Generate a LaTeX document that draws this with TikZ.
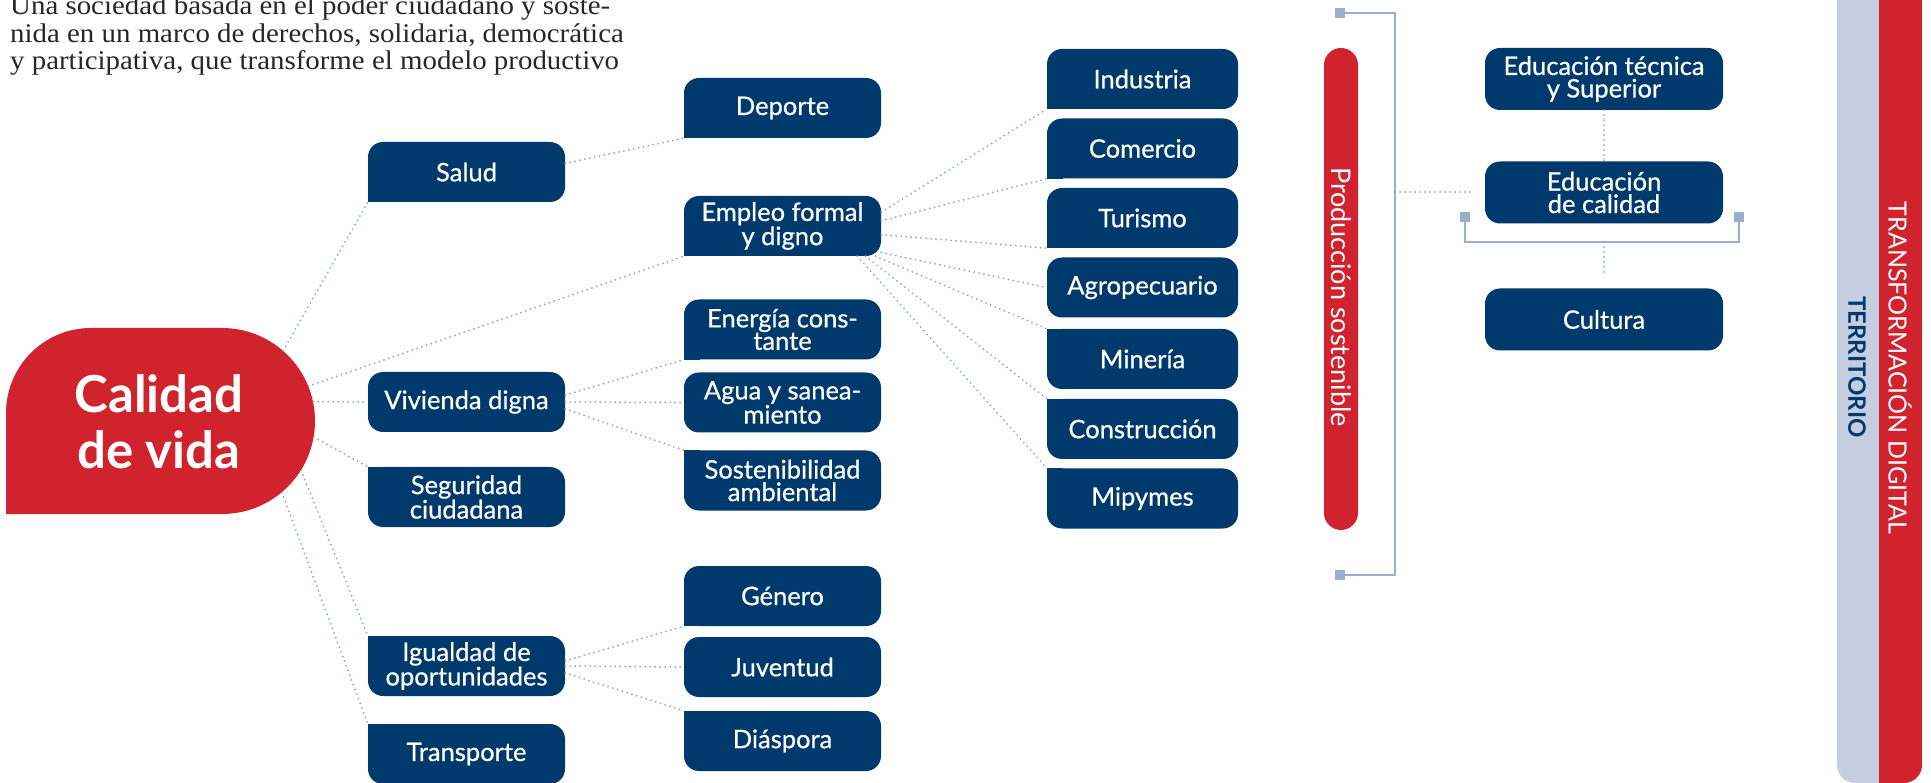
\documentclass[tikz,border=0pt]{standalone}
\usepackage{fontspec}
\setmainfont{Liberation Serif}
\setsansfont{Lato}
\newfontfamily\boxfont{Lato}[FakeBold=0.6]
\newfontfamily\introfont{Liberation Serif}[FakeStretch=1.07]
\usetikzlibrary{positioning, calc}
\definecolor{boxnavy}{RGB}{0, 58, 108}
\definecolor{cvred}{RGB}{209, 35, 45}
\definecolor{terrlav}{RGB}{197, 206, 224}
\definecolor{dotblue}{RGB}{143, 162, 201}
\definecolor{brackblue}{RGB}{155, 174, 207}

\tikzset{
  topic/.style={fill=boxnavy, text=white, rounded corners=15pt, minimum width=197pt, minimum height=60pt,
    inner sep=0pt, align=center, font=\boxfont\fontsize{25.5}{22.5}\selectfont},
  topicnarrow/.style={topic, minimum width=191pt},
  topicwide/.style={topic, minimum width=238pt, minimum height=62pt},
  link/.style={dotblue, line width=2pt, line cap=round, dash pattern=on 0pt off 5pt},
  brack/.style={brackblue, line width=2pt},
}

\begin{document}
\begin{tikzpicture}[x=1pt, y=1pt]
  \useasboundingbox (0,0) rectangle (1931,-783);

  % Intro text (cut at the top)
  \begin{scope}
    \clip (0,0) rectangle (1931,-783);
    \node[anchor=south west, align=left, inner sep=0pt, text=black!85,
      font=\introfont\fontsize{27}{27.5}\selectfont] (intro) at (10,-76) {Una sociedad basada en el poder ciudadano y soste-\\
      nida en un marco de derechos, solidaria, democrática\\
      y participativa, que transforme el modelo productivo};
  \end{scope}

  % Calidad de vida
  \node[circle, fill=cvred, minimum size=186pt, inner sep=0pt] (cvround) at (222,-421) {};
  \fill[cvred] (6,-514) -- (6,-413) arc[start angle=180, end angle=90, radius=85] -- (222,-328) -- (222,-514) -- cycle;
  \node[text=white, align=center, font=\sffamily\bfseries\fontsize{51}{56}\selectfont] (calidad) at (159,-422) {Calidad\\de vida};

  % First level
  \node[topic] (salud) at (466.5,-172) {Salud};
  \node[topic] (vivienda) at (466.5,-402) {Vivienda digna};
  \node[topic] (seguridad) at (466.5,-497) {Seguridad\\ciudadana};
  \node[topic] (igualdad) at (466.5,-666) {Igualdad de\\oportunidades};
  \node[topic] (transporte) at (466.5,-754) {Transporte};

  % Second level
  \node[topic] (deporte) at (782.5,-108) {Deporte};
  \node[topic] (empleo) at (782.5,-226) {Empleo formal\\y digno};
  \node[topic] (energia) at (782.5,-329.5) {Energía cons-\\tante};
  \node[topic] (agua) at (782.5,-402.5) {Agua y sanea-\\miento};
  \node[topic] (sostenib) at (782.5,-480.5) {Sostenibilidad\\ambiental};
  \node[topic] (genero) at (782.5,-596) {Género};
  \node[topic] (juventud) at (782.5,-667) {Juventud};
  \node[topic] (diaspora) at (782.5,-741) {Diáspora};

  % Sectors
  \node[topicnarrow] (industria) at (1142.5,-79) {Industria};
  \node[topicnarrow] (comercio) at (1142.5,-148.5) {Comercio};
  \node[topicnarrow] (turismo) at (1142.5,-218) {Turismo};
  \node[topicnarrow] (agro) at (1142.5,-287.5) {Agropecuario};
  \node[topicnarrow] (mineria) at (1142.5,-359) {Minería};
  \node[topicnarrow] (construccion) at (1142.5,-429) {Construcción};
  \node[topicnarrow] (mipymes) at (1142.5,-498.5) {Mipymes};

  % square corners where the links come in
  \foreach \n in {salud, deporte, empleo, energia, genero, industria, comercio, turismo}
    \fill[boxnavy] (\n.south west) rectangle +(16,16);
  \foreach \n in {seguridad, igualdad, transporte, sostenib, diaspora, mineria, construccion, mipymes}
    \fill[boxnavy] (\n.north west) rectangle +(16,-16);

  % Links
  \foreach \a/\t in {49/salud.south west, 22/empleo.south west, 12/vivienda.west,
                     350/seguridad.north west, 328/igualdad.north west, 310/transporte.north west}
    \draw[link] (cvround.\a) -- (\t);
  \draw[link] (salud.5) -- (deporte.south west);
  \draw[link] (vivienda.4) -- (energia.south west);
  \draw[link] (vivienda.east) -- (agua.west);
  \draw[link] (vivienda.356) -- (sostenib.north west);
  \draw[link] (igualdad.3) -- (genero.south west);
  \draw[link] (igualdad.east) -- (juventud.west);
  \draw[link] (igualdad.356) -- (diaspora.north west);
  \foreach \a/\t in {8/industria.south west, 3/comercio.south west, 355/turismo.south west, 345/agro.west,
                     342/mineria.north west, 340/construccion.north west, 338/mipymes.north west}
    \draw[link] (empleo.\a) -- (\t);

  % Produccion sostenible
  \node[fill=cvred, text=white, rotate=-90, rounded corners=17pt, minimum width=482pt, minimum height=34pt,
    inner sep=0pt, font=\sffamily\fontsize{27}{27}\selectfont] (produccion) at (1341,-289) {\hspace*{16pt}Producción sostenible};
  \coordinate (brtop) at (1340,-13);
  \coordinate (brbot) at (1340,-575);
  \draw[brack] (brtop) -- (1395,-13) -- (1395,-575) -- (brbot);
  \foreach \c in {brtop, brbot}
    \fill[brackblue] (\c) +(-5,-5) rectangle +(5,5);

  % Education and culture
  \node[topicwide] (edutec) at (1604,-79) {Educación técnica\\y Superior};
  \node[topicwide] (educal) at (1604,-192.5) {Educación\\de calidad};
  \node[topicwide] (cultura) at (1604,-319.5) {Cultura};
  \coordinate (brmid) at (1395,-192);
  \coordinate (edin) at (1470,-192);
  \draw[link] (brmid) -- (edin);
  \draw[link] (edutec) -- (educal);
  \coordinate (edl) at (1465,-217);
  \coordinate (edr) at (1739,-217);
  \draw[brack] (edl) -- (1465,-242) -- (1739,-242) -- (edr);
  \foreach \c in {edl, edr}
    \fill[brackblue] (\c) +(-5,-5) rectangle +(5,5);
  \coordinate (edlow) at (1604,-242);
  \coordinate (culin) at (1604,-275);
  \draw[link] (edlow) -- (culin);

  % Side bars
  \fill[terrlav] (1837,0) -- (1837,-765) arc[start angle=180, end angle=270, radius=18] -- (1900,-783) -- (1900,0) -- cycle;
  \fill[cvred] (1879,0) -- (1879,-783) -- (1904,-783) arc[start angle=-90, end angle=0, radius=18] -- (1922,0) -- cycle;
  \node[rotate=-90, text=boxnavy, font=\sffamily\bfseries\fontsize{24}{24}\selectfont] (territorio) at (1857,-367) {TERRITORIO};
  \node[rotate=-90, text=white, font=\sffamily\fontsize{25}{25}\selectfont] (digital) at (1900,-368) {TRANSFORMACIÓN DIGITAL};
\end{tikzpicture}
\end{document}
